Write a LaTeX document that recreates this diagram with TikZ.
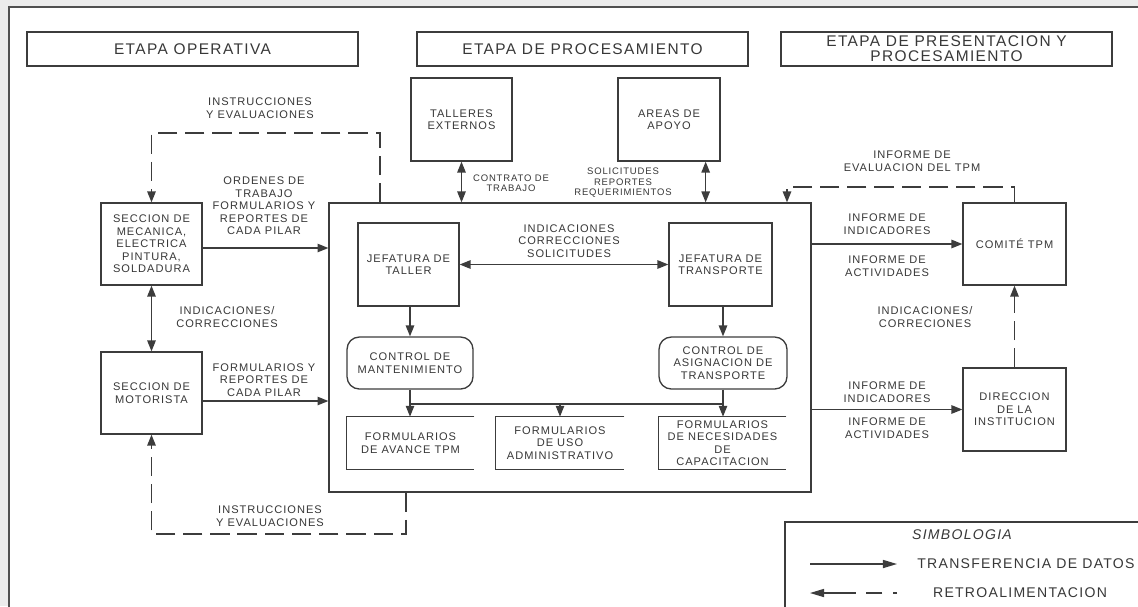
\documentclass[tikz,border=0pt]{standalone}
\usepackage{fontspec}
\setmainfont{Liberation Sans}[LetterSpace=9]
\usetikzlibrary{arrows.meta}

\definecolor{ink}{HTML}{3C3C3C}
\definecolor{txt}{HTML}{383838}
\definecolor{edge}{HTML}{ECECEC}
\definecolor{frame}{HTML}{505050}

\newcommand\labfont{\fontsize{6.3}{7.1}\selectfont}
\newcommand\smallfont{\fontsize{5.4}{6.0}\selectfont}
\newcommand\headfont{\fontsize{8.8}{8.6}\selectfont}
\newcommand\legfont{\fontsize{8}{9}\selectfont}

\tikzset{
  line/.style={draw=ink, line width=0.75pt},
  box/.style={line, rectangle, inner sep=0pt, align=center, font=\labfont, text=txt},
  roundbox/.style={box, rounded corners=7pt},
  doc/.style={rectangle, inner sep=0pt, align=center, font=\labfont, text=txt},
  head/.style={box, font=\headfont, minimum width=6.62cm, minimum height=0.68cm},
  lab/.style={inner sep=0pt, align=center, font=\labfont, text=txt},
  smalllab/.style={lab, font=\smallfont},
  legtext/.style={inner sep=0pt, font=\legfont, text=txt},
  tip/.tip={Triangle[length=6.2pt,width=4.8pt]},
  flow/.style={line, -tip},
  flowboth/.style={line, tip-tip},
  fb/.style={line, dash pattern=on 11pt off 4.5pt, -tip},
}

\begin{document}
\begin{tikzpicture}[x=0.02cm, y=-0.02cm]
\useasboundingbox (0,0) rectangle (1138,606);
\clip (0,0) rectangle (1138,606);

% page background and outer frame
\fill[edge] (0,0) rectangle (1138,606);
\fill[white] (9,7) rectangle (1200,700);
\draw[draw=frame, line width=1pt] (9,7) rectangle (1200,700);

% stage headers
\node[head] (h1) at (192.5,49) {ETAPA OPERATIVA};
\node[head] (h2) at (582.5,49) {ETAPA DE PROCESAMIENTO};
\node[head] (h3) at (946.5,49) {ETAPA DE PRESENTACION Y\\PROCESAMIENTO};

% external units
\node[box, minimum width=2.02cm, minimum height=1.66cm] (talleres) at (461.5,119.5) {TALLERES\\EXTERNOS};
\node[box, minimum width=2.04cm, minimum height=1.66cm] (apoyo) at (669,119.5) {AREAS DE\\APOYO};

% processing block
\node[box, minimum width=9.64cm, minimum height=5.78cm] (main) at (570,347.5) {};
\node[box, minimum width=2.02cm, minimum height=1.66cm] (jtaller) at (408.5,264.5) {JEFATURA DE\\TALLER};
\node[box, minimum width=2.06cm, minimum height=1.66cm] (jtrans) at (720.5,264.5) {JEFATURA DE\\TRANSPORTE};
\node[roundbox, minimum width=2.52cm, minimum height=1.04cm] (cmant) at (410,363) {CONTROL DE\\MANTENIMIENTO};
\node[roundbox, minimum width=2.56cm, minimum height=1.04cm] (casig) at (723,363) {CONTROL DE\\ASIGNACION DE\\TRANSPORTE};
\node[doc, minimum width=2.54cm, minimum height=1.04cm] (f1) at (410.5,443) {FORMULARIOS\\DE AVANCE TPM};
\node[doc, minimum width=2.56cm, minimum height=1.04cm] (f2) at (560,443) {FORMULARIOS\\DE USO\\ADMINISTRATIVO};
\node[doc, minimum width=2.54cm, minimum height=1.04cm] (f3) at (722.5,443) {FORMULARIOS\\DE NECESIDADES\\DE\\CAPACITACION};
\foreach \f in {f1,f2,f3}
  \draw[line] (\f.north east) -- (\f.north west) -- (\f.south west) -- (\f.south east);

% operating sections
\node[box, minimum width=2.02cm, minimum height=1.64cm] (mec) at (151.5,244) {SECCION DE\\MECANICA,\\ELECTRICA\\PINTURA,\\SOLDADURA};
\node[box, minimum width=2.02cm, minimum height=1.64cm] (mot) at (151.5,393) {SECCION DE\\MOTORISTA};

% presentation units
\node[box, minimum width=2.06cm, minimum height=1.64cm] (comite) at (1014.5,244) {COMITÉ TPM};
\node[box, minimum width=2.06cm, minimum height=1.66cm] (direc) at (1014.5,409.5) {DIRECCION\\DE LA\\INSTITUCION};

% connector labels
\node[smalllab] (lcontrato) at (511,183) {CONTRATO DE\\TRABAJO};
\node[smalllab] (lsolic) at (623,183) {SOLICITUDES\\REPORTES\\REQUERIMIENTOS};
\node[lab] (ljef) at (569,241) {INDICACIONES\\CORRECCIONES\\SOLICITUDES};
\node[lab] (lord) at (264,206) {ORDENES DE\\TRABAJO\\FORMULARIOS Y\\REPORTES DE\\CADA PILAR};
\node[lab] (lform) at (264,380) {FORMULARIOS Y\\REPORTES DE\\CADA PILAR};
\node[lab] (lind1) at (227,317) {INDICACIONES/\\CORRECCIONES};
\node[lab] (linstr1) at (260,108) {INSTRUCCIONES\\Y EVALUACIONES};
\node[lab] (linstr2) at (270,516) {INSTRUCCIONES\\Y EVALUACIONES};
\node[lab] (linfi1) at (887,224) {INFORME DE\\INDICADORES};
\node[lab] (linfa1) at (887,266) {INFORME DE\\ACTIVIDADES};
\node[lab] (linfi2) at (887,392) {INFORME DE\\INDICADORES};
\node[lab] (linfa2) at (887,428) {INFORME DE\\ACTIVIDADES};
\node[lab] (lind2) at (925,317) {INDICACIONES/\\CORRECIONES};
\node[lab] (leval) at (912,161) {INFORME DE\\EVALUACION DEL TPM};

% data transfer
\draw[flowboth] (talleres.south) -- (talleres.south |- main.north);
\draw[flowboth] ([xshift=-0.3cm]apoyo.south east) -- ([xshift=-0.3cm]apoyo.south east |- main.north);
\draw[flowboth] (jtaller.east) -- (jtrans.west);
\draw[flow] (cmant.north |- jtaller.south) -- (cmant.north);
\draw[flow] (casig.north |- jtrans.south) -- (casig.north);
\coordinate (bus) at (0,404);
\draw[flow] (cmant.south) -- (cmant.south |- f1.north);
\draw[flow] (casig.south) -- (casig.south |- f3.north);
\draw[line] (cmant.south |- bus) -- (casig.south |- bus);
\draw[flow] (f2.north |- bus) -- (f2.north);
\draw[flow] ([yshift=-0.08cm]mec.east) -- ([yshift=-0.08cm]mec.east -| main.west);
\draw[flow] ([yshift=-0.16cm]mot.east) -- ([yshift=-0.16cm]mot.east -| main.west);
\draw[flowboth] (mec.south) -- (mot.north);
\draw[flow] (comite.west -| main.east) -- (comite.west);
\draw[flow] (direc.west -| main.east) -- (direc.west);

% feedback
\draw[fb] (direc.north) -- (comite.south);
\coordinate (loopA) at (380,133);
\draw[fb] (loopA |- main.north) -- (loopA) -| (mec.north);
\coordinate (loopB) at (406,534);
\draw[fb] (loopB |- main.south) -- (loopB) -| (mot.south);
\coordinate (loopC) at (787,187);
\draw[fb] (comite.north) |- (loopC) -- (loopC |- main.north);

% legend
\node[line, rectangle, inner sep=0pt, minimum width=7.7cm, minimum height=2.56cm] (legend) at (977.5,586) {};
\node[legtext, font=\legfont\itshape] (lsym) at (962,535) {SIMBOLOGIA};
\coordinate (a1) at (810,564);
\coordinate (a2) at (897,564);
\draw[line, -{Triangle[length=8pt,width=4.6pt]}] (a1) -- (a2);
\node[legtext, anchor=west] (ltrans) at (917,564) {TRANSFERENCIA DE DATOS};
\coordinate (b1) at (897,593);
\coordinate (b2) at (810,593);
\draw[line, dash pattern=on 2.3pt off 6pt on 9.6pt off 5.7pt on 40pt, -{Triangle[length=8pt,width=4.6pt]}] (b1) -- (b2);
\node[legtext] (lretro) at (1020,593) {RETROALIMENTACION};
\end{tikzpicture}
\end{document}
